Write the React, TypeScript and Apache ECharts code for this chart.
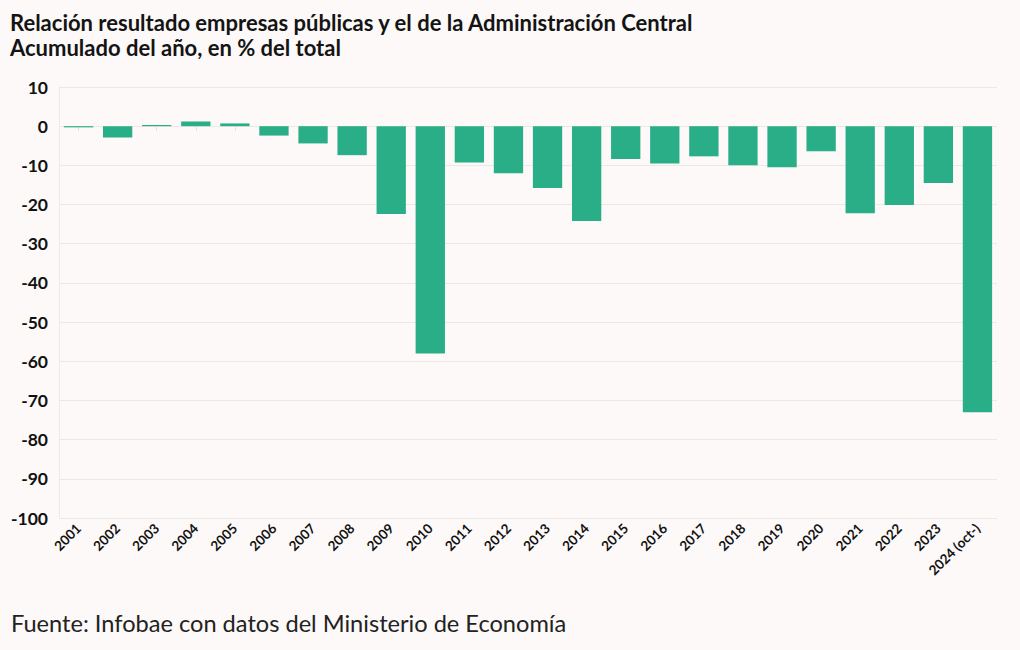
import React, { useEffect, useRef } from "react";
import * as echarts from "echarts";

const categories = ["2001","2002","2003","2004","2005","2006","2007","2008","2009","2010","2011","2012","2013","2014","2015","2016","2017","2018","2019","2020","2021","2022","2023","2024 (oct-)"];
const values = [-0.3,-2.9,0.3,1.2,0.7,-2.4,-4.4,-7.4,-22.4,-58.0,-9.3,-12.0,-15.8,-24.2,-8.4,-9.5,-7.7,-10.0,-10.5,-6.4,-22.2,-20.1,-14.5,-73.0];
const titleLines = ["Relación resultado empresas públicas y el de la Administración Central", "Acumulado del año, en % del total"];
const source = "Fuente: Infobae con datos del Ministerio de Economía";

const FONT = "Lato";

export default function App() {
  const ref = useRef<HTMLDivElement>(null);
  useEffect(() => {
    document.body.style.margin = "0";
    const chart = echarts.init(ref.current!, null, { renderer: "svg" });
    chart.setOption({
      animation: false,
      backgroundColor: "#fcf9f8",
      textStyle: { fontFamily: FONT },
      graphic: [
        { type: "text", left: 10, top: 11, style: { text: titleLines[0], font: `bold 22px ${FONT}`, fill: "#141414" } },
        { type: "text", left: 10, top: 36, style: { text: titleLines[1], font: `bold 22px ${FONT}`, fill: "#141414" } },
        { type: "text", left: 11, top: 611, style: { text: source, font: `23.6px ${FONT}`, fill: "#222" } },
      ],
      grid: { left: 59, right: 23, top: 87, bottom: 132 },
      xAxis: {
        type: "category",
        data: categories,
        axisLine: { show: false },
        axisTick: { show: true, alignWithLabel: true, length: 5, lineStyle: { color: "#e6e2e0" } },
        axisLabel: { rotate: 45, interval: 0, fontSize: 13.5, fontWeight: "bold", color: "#111", margin: 8, fontFamily: FONT },
        splitLine: { show: false },
      },
      yAxis: {
        type: "value",
        min: -100,
        max: 10,
        interval: 10,
        axisLine: { show: true, lineStyle: { color: "#efeae8" } },
        axisTick: { show: false },
        axisLabel: { fontSize: 17.5, fontWeight: "bold", color: "#111", margin: 11, fontFamily: FONT },
        splitLine: { lineStyle: { color: "#ece8e6" } },
      },
      series: [
        {
          type: "bar",
          data: values,
          barCategoryGap: "25%",
          itemStyle: { color: "#2aae87" },
        },
      ],
    });
    return () => chart.dispose();
  }, []);
  return <div ref={ref} style={{ position: "fixed", left: 0, top: 0, width: 1020, height: 650 }} />;
}
